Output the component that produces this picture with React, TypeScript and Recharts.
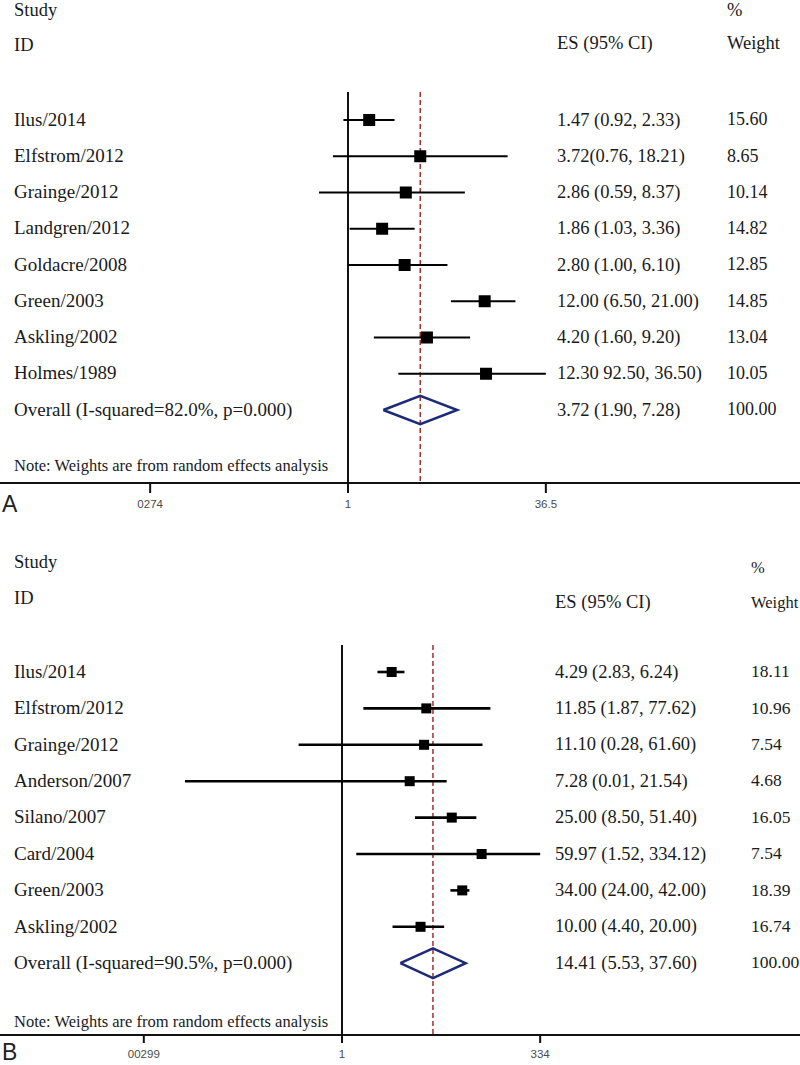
import React from 'react';
import { ComposedChart, Scatter, XAxis, YAxis, ErrorBar, ReferenceLine } from 'recharts';

// ---------- Panel A data ----------
const studiesA = ['Ilus/2014', 'Elfstrom/2012', 'Grainge/2012', 'Landgren/2012', 'Goldacre/2008', 'Green/2003', 'Askling/2002', 'Holmes/1989'];
const esA = [1.47, 3.72, 2.86, 1.86, 2.8, 12.0, 4.2, 12.3];
const lowerA = [0.92, 0.76, 0.59, 1.03, 1.0, 6.5, 1.6, 2.5];
const upperA = [2.33, 18.21, 8.37, 3.36, 6.1, 21.0, 9.2, 36.5];
const ciTextA = ['1.47 (0.92, 2.33)', '3.72(0.76, 18.21)', '2.86 (0.59, 8.37)', '1.86 (1.03, 3.36)', '2.80 (1.00, 6.10)', '12.00 (6.50, 21.00)', '4.20 (1.60, 9.20)', '12.30 92.50, 36.50)'];
const weightTextA = ['15.60', '8.65', '10.14', '14.82', '12.85', '14.85', '13.04', '10.05'];
const overallLabelA = 'Overall (I-squared=82.0%, p=0.000)';
const overallA = [3.72, 1.9, 7.28];
const overallTextA = '3.72 (1.90, 7.28)';
const ticksA = [0.0274, 1, 36.5];
const tickLabelsA = ['0274', '1', '36.5'];

// ---------- Panel B data ----------
const studiesB = ['Ilus/2014', 'Elfstrom/2012', 'Grainge/2012', 'Anderson/2007', 'Silano/2007', 'Card/2004', 'Green/2003', 'Askling/2002'];
const esB = [4.29, 11.85, 11.1, 7.28, 25.0, 59.97, 34.0, 10.0];
const lowerB = [2.83, 1.87, 0.28, 0.01, 8.5, 1.52, 24.0, 4.4];
const upperB = [6.24, 77.62, 61.6, 21.54, 51.4, 334.12, 42.0, 20.0];
const ciTextB = ['4.29 (2.83, 6.24)', '11.85 (1.87, 77.62)', '11.10 (0.28, 61.60)', '7.28 (0.01, 21.54)', '25.00 (8.50, 51.40)', '59.97 (1.52, 334.12)', '34.00 (24.00, 42.00)', '10.00 (4.40, 20.00)'];
const weightTextB = ['18.11', '10.96', '7.54', '4.68', '16.05', '7.54', '18.39', '16.74'];
const overallLabelB = 'Overall (I-squared=90.5%, p=0.000)';
const overallB = [14.41, 5.53, 37.6];
const overallTextB = '14.41 (5.53, 37.60)';
const ticksB = [0.00299, 1, 334];
const tickLabelsB = ['00299', '1', '334'];

const noteText = 'Note: Weights are from random effects analysis';

const SERIF = '"Liberation Serif", "Times New Roman", serif';
const SANS = '"Liberation Sans", Arial, sans-serif';

type Col = 'name' | 'es' | 'wt';

type Spec = {
  letter: string;
  top: number;
  height: number;
  xAxisHeight: number;
  xDomain: [number, number];
  yDomain: [number, number];
  studies: string[];
  es: number[];
  lo: number[];
  hi: number[];
  ciText: string[];
  wText: string[];
  overallLabel: string;
  overall: number[];
  overallText: string;
  ticks: number[];
  tickLabels: string[];
  axisTop: number;
  axisBottom: number;
  diamondHalf: number;
  square: number;
  ciWidth: number;
  tickSize: number;
  cols: { name: number; es: number; wt: number };
  sizes: { name: number; es: number; wt: number; head: number; wHead: number };
  headers: { studyY: number; idY: number; esY: number; pctY: number; wY: number; noteY: number };
  letterTop: number;
};

const panelA: Spec = {
  letter: 'A',
  top: 0,
  height: 535,
  xAxisHeight: 52,
  xDomain: [Math.exp(-348 / 55), Math.exp(452 / 55)],
  yDomain: [-120 / 36.25, 363 / 36.25],
  studies: studiesA,
  es: esA,
  lo: lowerA,
  hi: upperA,
  ciText: ciTextA,
  wText: weightTextA,
  overallLabel: overallLabelA,
  overall: overallA,
  overallText: overallTextA,
  ticks: ticksA,
  tickLabels: tickLabelsA,
  axisTop: -0.77,
  axisBottom: 363 / 36.25,
  diamondHalf: 0.39,
  square: 12,
  ciWidth: 2,
  tickSize: 10,
  cols: { name: 14, es: 557, wt: 727 },
  sizes: { name: 19, es: 18.5, wt: 18, head: 18.5, wHead: 18.5 },
  headers: { studyY: -3.03, idY: -2.05, esY: -2.1, pctY: -3.02, wY: -2.1, noteY: 9.55 },
  letterTop: 493,
};

const panelB: Spec = {
  letter: 'B',
  top: 540,
  height: 525,
  xAxisHeight: 30,
  xDomain: [Math.exp(-342 / 34.1), Math.exp(458 / 34.1)],
  yDomain: [-132 / 36.4, 363 / 36.4],
  studies: studiesB,
  es: esB,
  lo: lowerB,
  hi: upperB,
  ciText: ciTextB,
  wText: weightTextB,
  overallLabel: overallLabelB,
  overall: overallB,
  overallText: overallTextB,
  ticks: ticksB,
  tickLabels: tickLabelsB,
  axisTop: -0.74,
  axisBottom: 363 / 36.4,
  diamondHalf: 0.41,
  square: 10,
  ciWidth: 2.6,
  tickSize: 8,
  cols: { name: 14, es: 555, wt: 751 },
  sizes: { name: 19, es: 18.5, wt: 17.5, head: 18.5, wHead: 16.5 },
  headers: { studyY: -3.02, idY: -2.03, esY: -1.9, pctY: -2.86, wY: -1.9, noteY: 9.62 },
  letterTop: 1041,
};

function ForestPanel({ p }: { p: Spec }) {
  const n = p.studies.length;
  const squares = p.studies.map((s, i) => ({
    x: p.es[i],
    y: i,
    err: [p.es[i] - p.lo[i], p.hi[i] - p.es[i]],
  }));
  const [oEs, oLo, oHi] = p.overall;
  const diamond = [
    { x: oLo, y: n },
    { x: oEs, y: n - p.diamondHalf },
    { x: oHi, y: n },
    { x: oEs, y: n + p.diamondHalf },
    { x: oLo, y: n },
  ];
  type T = { x: number; y: number; col: Col; text: string; size: number };
  const texts: T[] = [];
  p.studies.forEach((s, i) => {
    texts.push({ x: 1, y: i, col: 'name', text: s, size: p.sizes.name });
    texts.push({ x: 1, y: i, col: 'es', text: p.ciText[i], size: p.sizes.es });
    texts.push({ x: 1, y: i, col: 'wt', text: p.wText[i], size: p.sizes.wt });
  });
  texts.push({ x: 1, y: n, col: 'name', text: p.overallLabel, size: p.sizes.name });
  texts.push({ x: 1, y: n, col: 'es', text: p.overallText, size: p.sizes.es });
  texts.push({ x: 1, y: n, col: 'wt', text: '100.00', size: p.sizes.wt });
  texts.push({ x: 1, y: p.headers.studyY, col: 'name', text: 'Study', size: p.sizes.head });
  texts.push({ x: 1, y: p.headers.idY, col: 'name', text: 'ID', size: p.sizes.head });
  texts.push({ x: 1, y: p.headers.esY, col: 'es', text: 'ES (95% CI)', size: p.sizes.head });
  texts.push({ x: 1, y: p.headers.pctY, col: 'wt', text: '%', size: p.sizes.wHead });
  texts.push({ x: 1, y: p.headers.wY, col: 'wt', text: 'Weight', size: p.sizes.wHead });
  texts.push({ x: 1, y: p.headers.noteY, col: 'name', text: noteText, size: 16.5 });

  const squareShape = (props: any) => {
    const { cx, cy } = props;
    const s = p.square;
    return <rect x={cx - s / 2} y={cy - s / 2} width={s} height={s} fill="#000" />;
  };
  const textShape = (props: any) => {
    const { cy, payload } = props;
    const x = p.cols[payload.col as Col];
    return (
      <text x={x} y={cy} dy="0.3em" fontFamily={SERIF} fontSize={payload.size} fill="#1a1a1a">
        {payload.text}
      </text>
    );
  };

  return (
    <div style={{ position: 'absolute', left: 0, top: p.top, width: 800, height: p.height }}>
      <ComposedChart width={800} height={p.height} margin={{ top: 0, right: 0, bottom: 0, left: 0 }}>
        <XAxis
          type="number"
          dataKey="x"
          scale="log"
          domain={p.xDomain}
          allowDataOverflow
          ticks={p.ticks}
          interval={0}
          height={p.xAxisHeight}
          tickFormatter={(v: number) => p.tickLabels[p.ticks.indexOf(v)] ?? String(v)}
          tickSize={p.tickSize}
          tickMargin={7}
          axisLine={{ stroke: '#111', strokeWidth: 2 }}
          tickLine={{ stroke: '#111', strokeWidth: 2 }}
          tick={{ fill: '#4a4a4a', fontSize: 11.5, fontFamily: SANS }}
        />
        <YAxis type="number" dataKey="y" domain={p.yDomain} reversed hide />
        <ReferenceLine
          segment={[{ x: 1, y: p.axisTop }, { x: 1, y: p.axisBottom }]}
          stroke="#111"
          strokeWidth={2}
          ifOverflow="visible"
        />
        <ReferenceLine
          segment={[{ x: oEs, y: p.axisTop }, { x: oEs, y: p.axisBottom }]}
          stroke="#a3302b"
          strokeWidth={1.5}
          strokeDasharray="5 3"
          ifOverflow="visible"
        />
        <Scatter data={squares} shape={squareShape} isAnimationActive={false}>
          <ErrorBar dataKey="err" direction="x" width={0} stroke="#000" strokeWidth={p.ciWidth} />
        </Scatter>
        <Scatter
          data={diamond}
          line={{ stroke: '#1c2a78', strokeWidth: 2.5 }}
          fill="#1c2a78"
          shape={() => <g />}
          isAnimationActive={false}
        />
        <Scatter data={texts} shape={textShape} isAnimationActive={false} />
      </ComposedChart>
      <div
        style={{
          position: 'absolute',
          left: 2,
          top: p.letterTop - p.top,
          fontFamily: SANS,
          fontSize: 23,
          lineHeight: '23px',
          color: '#222',
        }}
      >
        {p.letter}
      </div>
    </div>
  );
}

export default function App() {
  return (
    <div style={{ position: 'absolute', left: 0, top: 0, width: 800, height: 1065, background: '#fff' }}>
      <ForestPanel p={panelA} />
      <ForestPanel p={panelB} />
    </div>
  );
}
